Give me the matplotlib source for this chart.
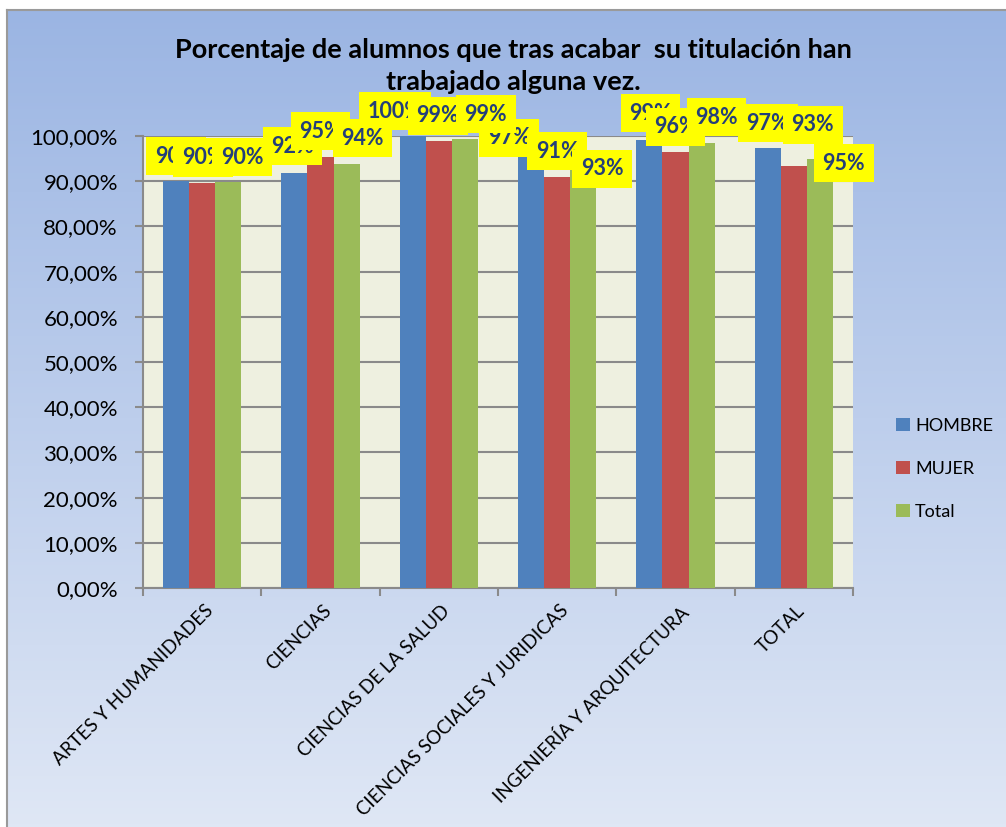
import numpy as np
import matplotlib
matplotlib.use("Agg")
import matplotlib.pyplot as plt
from matplotlib.ticker import FuncFormatter, MultipleLocator
from matplotlib.transforms import ScaledTranslation
from matplotlib.colors import LinearSegmentedColormap

# datos
categorias = ["ARTES Y HUMANIDADES", "CIENCIAS", "CIENCIAS DE LA SALUD",
              "CIENCIAS SOCIALES Y JURIDICAS", "INGENIERÍA Y ARQUITECTURA", "TOTAL"]
hombre = [0.900, 0.918, 1.000, 0.965, 0.991, 0.973]
mujer = [0.895, 0.953, 0.989, 0.909, 0.965, 0.934]
total = [0.898, 0.938, 0.993, 0.930, 0.984, 0.949]
etiquetas_hombre = ["90%", "92%", "100%", "97%", "99%", "97%"]
etiquetas_mujer = ["90%", "95%", "99%", "91%", "96%", "93%"]
etiquetas_total = ["90%", "94%", "99%", "93%", "98%", "95%"]

series = [("HOMBRE", hombre, etiquetas_hombre, "#4f81bd"),
          ("MUJER", mujer, etiquetas_mujer, "#c0504d"),
          ("Total", total, etiquetas_total, "#9bbb59")]

# desplazamiento de cada etiqueta (px) respecto al extremo de su barra
desplaz = [
    [(0, 25), (-2, 27), (-18, 25), (-22, 14), (1, 27), (0, 25)],
    [(1, 26), (0, 26), (-1, 25), (0, 26), (0, 25), (19, 41)],
    [(14, 25), (16, 26), (21, 25), (19, -1), (15, 26), (24, -4)],
]

plt.rcParams['font.family'] = ['Lato', 'DejaVu Sans']

fig = plt.figure(figsize=(10.06, 8.27), dpi=100)

# fondo degradado del area del grafico
bg = fig.add_axes([7 / 1006, 0, 1 - 7 / 1006, 1 - 10 / 827], zorder=-10)
cmap = LinearSegmentedColormap.from_list("fondo", ["#9bb5e3", "#dfe7f5"])
bg.imshow(np.linspace(0, 1, 256).reshape(-1, 1), aspect='auto', cmap=cmap,
          extent=[0, 1, 0, 1])
bg.set_xticks([])
bg.set_yticks([])
for s in ["right", "bottom"]:
    bg.spines[s].set_visible(False)
for s in ["left", "top"]:
    bg.spines[s].set_color("#9a9a9a")
    bg.spines[s].set_linewidth(1.5)

ax = fig.add_axes([143 / 1006, 239 / 827, 710 / 1006, 452 / 827])
ax.set_facecolor("#eef0e0")

n = len(categorias)
x = np.arange(n) + 0.5
w = 0.22
for i, (nombre, vals, etqs, color) in enumerate(series):
    pos = x + (i - 1) * w
    ax.bar(pos, vals, width=w, color=color, label=nombre, zorder=3)
    for j, (p, v, t) in enumerate(zip(pos, vals, etqs)):
        dx, dy = desplaz[i][j]
        ax.annotate(t, (p, v), xytext=(dx, dy), textcoords='offset pixels',
                    ha='center', va='center', fontsize=15.5, fontweight='bold',
                    color="#243f7a", zorder=10 + i, annotation_clip=False,
                    bbox=dict(boxstyle='square,pad=0.4', fc='#ffff00', ec='none'))

ax.set_xlim(0, n)
ax.set_ylim(0, 1.0)
ax.yaxis.set_major_locator(MultipleLocator(0.1))
ax.yaxis.set_major_formatter(FuncFormatter(lambda v, _: f"{v * 100:.2f}%".replace(".", ",")))
ax.grid(axis='y', color="#8a8a8a", linewidth=1.5, zorder=1)
ax.set_axisbelow(True)

for s in ["top", "right"]:
    ax.spines[s].set_visible(False)
for s in ["left", "bottom"]:
    ax.spines[s].set_color("#8a8a8a")
    ax.spines[s].set_linewidth(1.5)

ax.tick_params(axis='y', length=6, width=1.5, color="#8a8a8a", labelsize=16, pad=12)
ax.set_xticks(np.arange(n + 1), minor=True)
ax.tick_params(axis='x', which='minor', length=6, width=1.5, color="#8a8a8a")
ax.set_xticks(x, categorias, rotation=45, ha='right', va='top', rotation_mode='anchor')
ax.tick_params(axis='x', which='major', length=0, labelsize=13.5, pad=10)
for lbl in ax.get_xticklabels():
    lbl.set_transform(lbl.get_transform() + ScaledTranslation(2 / 100, 0, fig.dpi_scale_trans))

fig.text(513 / 1006, 1 - 50 / 827, "Porcentaje de alumnos que tras acabar  su titulación han",
         ha='center', va='center', fontsize=19.5, fontweight='bold')
fig.text(513 / 1006, 1 - 82 / 827, "trabajado alguna vez.",
         ha='center', va='center', fontsize=19.5, fontweight='bold', zorder=1)

fig.legend(loc='center left', bbox_to_anchor=(880 / 1006, 1 - 469 / 827), frameon=False,
           fontsize=13, handlelength=0.75, handleheight=0.75, labelspacing=1.5,
           handletextpad=0.3)

fig.savefig("out.png", dpi=100)
